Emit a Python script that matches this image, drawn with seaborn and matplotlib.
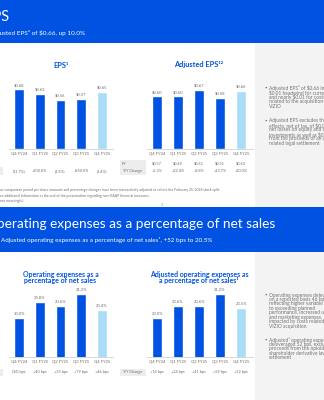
import matplotlib
matplotlib.use("Agg")
import matplotlib.pyplot as plt
import matplotlib.transforms as mtrans
from matplotlib.patches import Rectangle
import seaborn as sns
import pandas as pd

sns.set_theme(style="white")
plt.rcParams['font.family'] = ['Lato', 'DejaVu Sans']

# ---------------- data ----------------
quarters = ["Q4 FY24", "Q1 FY25", "Q2 FY25", "Q3 FY25", "Q4 FY25"]
eps = [0.68, 0.63, 0.56, 0.57, 0.65]
eps_yoy = ["(11.7%)", "+300.0%", "(4.3%)", "+850.0%", "(4.4%)"]
adj_eps = [0.60, 0.60, 0.67, 0.58, 0.66]
adj_eps_py = ["$0.57", "$0.49", "$0.61", "$0.51", "$0.60"]
adj_eps_yoy = ["+5.3%", "+22.4%", "+9.8%", "+13.7%", "+10.0%"]
opex = [20.0, 20.8, 20.6, 21.2, 20.4]
opex_yoy = ["(36) bps", "+40 bps", "+35 bps", "+79 bps", "+46 bps"]
adj_opex = [20.0, 20.6, 20.6, 21.2, 20.5]
adj_opex_yoy = ["+16 bps", "+24 bps", "+41 bps", "+59 bps", "+52 bps"]

BLUE = "#0053E2"
LIGHT = "#A9DDF7"
GRAY_TXT = "#6E6E73"
PANEL_TXT = "#727277"
PANEL = "#F3F3F3"

W, H = 324, 400
fig = plt.figure(figsize=(W / 100, H / 100), dpi=100)
fig.patch.set_facecolor("white")


def fx(x):
    return x / W


def fy(y):
    return 1 - y / H


def rect(x0, y0, x1, y1, color, z=0):
    fig.patches.append(Rectangle((fx(x0), fy(y1)), (x1 - x0) / W, (y1 - y0) / H,
                                 transform=fig.transFigure, facecolor=color,
                                 edgecolor="none", zorder=z))


def ftext(x, y, s, **kw):
    fig.text(fx(x), fy(y), s, **kw)


# ---------------- backgrounds ----------------
rect(0, 0, W, 43, BLUE)
rect(255, 43, W, 207, PANEL)
rect(0, 207, W, 252, BLUE)
rect(255, 252, W, H, PANEL)

# header texts (the slide is cropped at the left edge, as in the reference)
ftext(10, 17, "EPS", ha="right", va="center", color="white", fontsize=10.5)
ftext(85, 33, "Adjusted EPS² of $0.66, up 10.0%", ha="right", va="center",
      color="white", fontsize=4.6)
ftext(275, 224, "Operating expenses as a percentage of net sales", ha="right",
      va="center", color="white", fontsize=9.85)
ftext(212, 240, "Adjusted operating expenses as a percentage of net sales¹, +52 bps to 20.5%",
      ha="right", va="center", color="white", fontsize=4.5)

# footnotes
ftext(220, 190, "¹ Prior comparison period per share amounts and percentage changes have been "
      "retroactively adjusted to reflect the February 25, 2024 stock split.",
      ha="right", va="center", color=GRAY_TXT, fontsize=2.5)
ftext(150, 196, "² See additional information at the end of the presentation regarding "
      "non-GAAP financial measures.", ha="right", va="center", color=GRAY_TXT, fontsize=2.5)
ftext(23, 201, "nm - not meaningful", ha="right", va="center", color=GRAY_TXT, fontsize=2.5)
ftext(162, 205, "3", ha="center", va="center", color=GRAY_TXT, fontsize=2.5)


# right panel bullets (cropped at the right edge, as in the reference)
def bullets(x, y, items, step, gap):
    yy = y
    for item in items:
        ftext(x - 4.5, yy, "•", ha="left", va="center", color=PANEL_TXT, fontsize=3.2)
        for line in item:
            ftext(x, yy, line, ha="left", va="center", color=PANEL_TXT, fontsize=3.5)
            yy += step
        yy += gap


bullets(269, 88, [["Adjusted EPS² of $0.66 included a", "$0.01 headwind for currency",
                   "and nearly $0.01 for costs", "related to the acquisition of", "VIZIO"],
                  ["Adjusted EPS excludes the", "effects, net of tax, of $0.01 of",
                   "net losses on equity and other", "investments as well as $0.03",
                   "from the proceeds of an opioid", "related legal settlement"]],
        4.6, 9.5)
bullets(269, 295, [["Operating expenses deleveraged", "on a reported basis 46 bps,",
                    "reflecting higher variable pay due", "to exceeding planned",
                    "performance, increased usage", "and marketing expenses,",
                    "impacted by costs related to the", "VIZIO acquisition"],
                   ["Adjusted¹ operating expenses", "deleveraged 52 bps, excluding",
                    "proceeds from the opioid", "shareholder derivative lawsuit",
                    "settlement"]],
        4.45, 9.4)


# ---------------- charts ----------------
def chart(c0, unit, top, base, ymin, scale, values, fmt, title, title_y, tsize):
    left = c0 - 0.5 * unit
    right = c0 + 4.55 * unit
    ax = fig.add_axes([fx(left), fy(base), (right - left) / W, (base - top) / H])
    df = pd.DataFrame({"q": quarters, "v": values})
    sns.barplot(data=df, x="q", y="v", color=BLUE, width=0.48, ax=ax,
                saturation=1, errorbar=None)
    bars = ax.containers[0]
    bars[-1].set_facecolor(LIGHT)
    ax.set_xlim(-0.5, 4.55)
    ax.set_ylim(ymin, ymin + (base - top) / scale)
    ax.bar_label(bars, labels=[fmt(v) for v in values], padding=1.5,
                 fontsize=3, color=GRAY_TXT)
    for s in ["top", "left", "right"]:
        ax.spines[s].set_visible(False)
    ax.spines["bottom"].set_color("#C8C8C8")
    ax.spines["bottom"].set_linewidth(0.5)
    ax.set_xlabel("")
    ax.set_ylabel("")
    ax.set_yticks([])
    ax.tick_params(axis="x", length=0, pad=1.5, labelsize=3, labelcolor=GRAY_TXT)
    ax.patch.set_alpha(0)
    ftext(c0 + 2 * unit, title_y, title, ha="center", va="center", color=BLUE,
          fontsize=tsize, fontweight="bold", linespacing=1.0)
    return ax


def row(ax, y, labels):
    tr = mtrans.blended_transform_factory(ax.transData, fig.transFigure)
    for i, s in enumerate(labels):
        ax.text(i, fy(y), s, transform=tr, ha="center", va="center",
                fontsize=2.8, color=GRAY_TXT)


def row_label(x_right, y0, y1, lines):
    rect(x_right - 26, y0, x_right, y1, "#EDEDED")
    for (yy, s) in lines:
        ftext(x_right - 24, yy, s, ha="left", va="center", fontsize=2.8, color=GRAY_TXT)


ax1 = chart(19, 20.75, 75, 149, 0, 88, eps, lambda v: f"${v:.2f}", "EPS¹", 65, 5.3)
ax2 = chart(157, 21, 75, 149, 0, 88, adj_eps, lambda v: f"${v:.2f}",
            "Adjusted EPS¹²", 65, 5.3)
ax3 = chart(19, 20.75, 287, 357, 18.05, 20, opex, lambda v: f"{v:.1f}%",
            "Operating expenses as a\npercentage of net sales", 277.5, 5.0)
ax4 = chart(157, 21, 287, 357, 18.05, 20, adj_opex, lambda v: f"{v:.1f}%",
            "Adjusted operating expenses as\na percentage of net sales¹", 277.5, 5.0)

row_label(3, 167.5, 175, [(171, "Y/Y Change")])
row(ax1, 171, eps_yoy)
row_label(146, 160, 175, [(164, "PY"), (171, "Y/Y Change")])
row(ax2, 164, adj_eps_py)
row(ax2, 171, adj_eps_yoy)
row_label(3, 368.5, 376, [(372, "Y/Y Change")])
row(ax3, 372, opex_yoy)
row_label(146, 368.5, 376, [(372, "Y/Y Change")])
row(ax4, 372, adj_opex_yoy)

fig.savefig("out.png", dpi=100)
